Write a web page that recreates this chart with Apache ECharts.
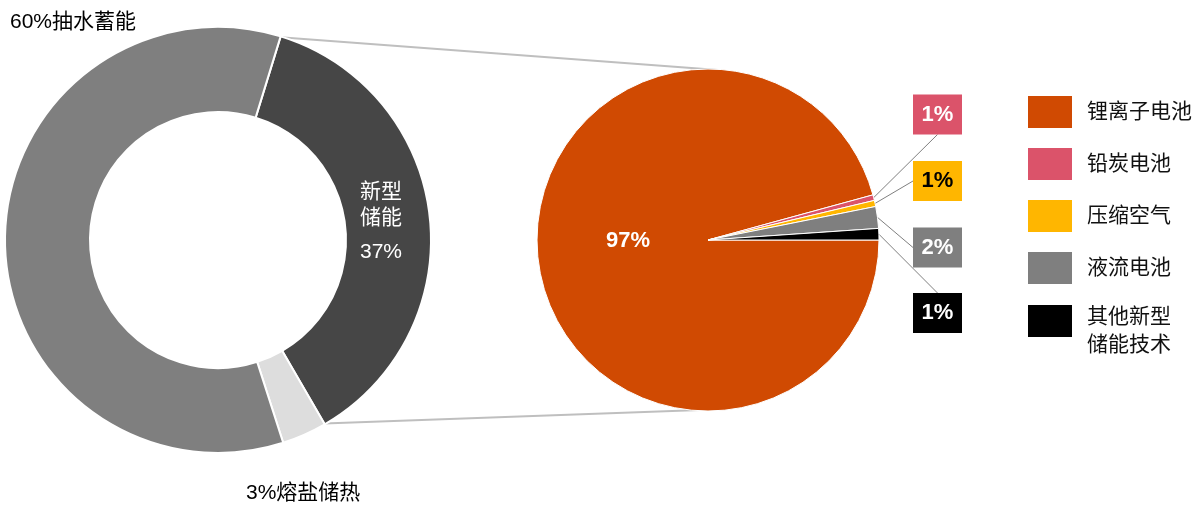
<!DOCTYPE html>
<html><head><meta charset="utf-8">
<script src="https://cdn.jsdelivr.net/npm/echarts@6/dist/echarts.min.js"></script>
<style>html,body{margin:0;padding:0;background:#fff}#chart{width:1204px;height:507px}</style>
</head><body><div id="chart"></div>
<script>
// ---- data ----
const donutCategories = ['新型储能', '熔盐储热', '抽水蓄能'];
const donutValues = [36.9, 3.4, 59.7];
const pieCategories = ['锂离子电池', '铅炭电池', '压缩空气', '液流电池', '其他新型储能技术'];
const pieValues = [95.75, 0.53, 0.58, 2.06, 1.08];
const pieLabels = ['97%', '1%', '1%', '2%', '1%'];

// ---- styles / layout ----
const donutColors = ['#464646', '#DDDDDD', '#7F7F7F'];
const pieColors = ['#D04A02', '#DB536A', '#FFB600', '#7F7F7F', '#000000'];
const pieLabelTextColors = ['#fff', '#fff', '#000', '#fff', '#fff'];
const FONT = '"Liberation Sans", Arial, "Noto Sans CJK SC", sans-serif';
const donut = { cx: 218, cy: 240, r0: 128, r: 213, start: 72.9 };
const pie = { cx: 708, cy: 240, r: 171 };
const donutLabelPos = [
  { x: 381, y: 226, align: 'center' },
  { x: 246, y: 493, align: 'left' },
  { x: 10, y: 22.5, align: 'left' }
];
const pieLabelPos = [
  { x: 628, y: 240.5 }, { x: 937.5, y: 114.5 }, { x: 937.5, y: 181 },
  { x: 937.5, y: 247.5 }, { x: 937.5, y: 313 }
];
const pieConnectTop = [718, 70];
const pieConnectBottom = [728, 409];

// connector endpoints derived from donut slice (新型储能) geometry
const donutTotal = donutValues.reduce((a, b) => a + b, 0);
const a1 = donut.start * Math.PI / 180;
const a2 = (donut.start - donutValues[0] / donutTotal * 360) * Math.PI / 180;
const edgeR = donut.r - 1;
const p1 = [donut.cx + edgeR * Math.cos(a1), donut.cy - edgeR * Math.sin(a1)];
const p2 = [donut.cx + edgeR * Math.cos(a2), donut.cy - edgeR * Math.sin(a2)];

const legendBase = {
  orient: 'vertical', left: 1028, padding: 0,
  itemWidth: 44, itemHeight: 32, itemGap: 20, icon: 'rect',
  selectedMode: false,
  itemStyle: { borderWidth: 0 }
};

const chart = echarts.init(document.getElementById('chart'));
chart.setOption({
  animation: false,
  backgroundColor: '#fff',
  graphic: [
    { type: 'line', z: 0, shape: { x1: p1[0], y1: p1[1], x2: pieConnectTop[0], y2: pieConnectTop[1] }, style: { stroke: '#BFBFBF', lineWidth: 2 } },
    { type: 'line', z: 0, shape: { x1: p2[0], y1: p2[1], x2: pieConnectBottom[0], y2: pieConnectBottom[1] }, style: { stroke: '#BFBFBF', lineWidth: 2 } }
  ],
  legend: [
    Object.assign({}, legendBase, {
      top: 96,
      textStyle: { fontSize: 21, color: '#111', fontFamily: FONT, padding: [0, 0, 0, 10] },
      data: pieCategories.slice(0, 4)
    }),
    Object.assign({}, legendBase, {
      top: 305,
      textStyle: {
        padding: [20, 0, 0, 10],
        rich: { a: { fontSize: 21, lineHeight: 28, color: '#111', fontFamily: FONT } }
      },
      formatter: n => '{a|' + n.slice(0, 4) + '}\n{a|' + n.slice(4) + '}',
      data: pieCategories.slice(4)
    })
  ],
  series: [
    {
      type: 'pie', name: 'donut', z: 2,
      radius: [donut.r0, donut.r], center: [donut.cx, donut.cy],
      startAngle: donut.start, clockwise: true, avoidLabelOverlap: false, silent: true,
      itemStyle: { borderColor: '#fff', borderWidth: 2 },
      label: {
        show: true, color: '#000', fontSize: 21, fontFamily: FONT,
        formatter: p => p.dataIndex === 0
          ? '{a|' + p.name.slice(0, 2) + '}\n{a|' + p.name.slice(2) + '}\n{b|' + Math.round(p.value) + '%}'
          : Math.round(p.value) + '%' + p.name
      },
      labelLine: { show: false },
      labelLayout: p => {
        const d = donutLabelPos[p.dataIndex];
        return { x: d.x, y: d.y, align: d.align, verticalAlign: 'middle' };
      },
      data: donutCategories.map((n, i) => ({
        name: n, value: donutValues[i], itemStyle: { color: donutColors[i] },
        label: i === 0 ? {
          position: 'inside', color: '#fff', align: 'center',
          rich: {
            a: { fontSize: 21, lineHeight: 26, color: '#fff', fontFamily: FONT, align: 'center' },
            b: { fontSize: 21, lineHeight: 42, color: '#fff', fontFamily: FONT, align: 'center' }
          }
        } : { position: 'outside' }
      }))
    },
    {
      type: 'pie', name: 'pie', z: 2,
      radius: pie.r, center: [pie.cx, pie.cy],
      startAngle: 0, clockwise: true, avoidLabelOverlap: false, silent: true,
      itemStyle: { borderColor: '#fff', borderWidth: 1 },
      label: {
        show: true, position: 'outside', fontFamily: FONT, fontSize: 22, fontWeight: 'bold',
        formatter: p => pieLabels[p.dataIndex]
      },
      labelLine: { show: true, length: 0, length2: 0, smooth: false, lineStyle: { color: '#7F7F7F', width: 1 } },
      labelLayout: p => {
        const d = pieLabelPos[p.dataIndex];
        return { x: d.x, y: d.y, align: 'center', verticalAlign: 'middle' };
      },
      data: pieCategories.map((n, i) => ({
        name: n, value: pieValues[i], itemStyle: { color: pieColors[i] },
        label: i === 0
          ? { position: 'inside', color: '#fff' }
          : { backgroundColor: pieColors[i], color: pieLabelTextColors[i], width: 49, height: 40, lineHeight: 40, align: 'center', verticalAlign: 'middle' },
        labelLine: i === 0 ? { show: false } : { show: true }
      }))
    }
  ]
});
</script>
</body></html>
